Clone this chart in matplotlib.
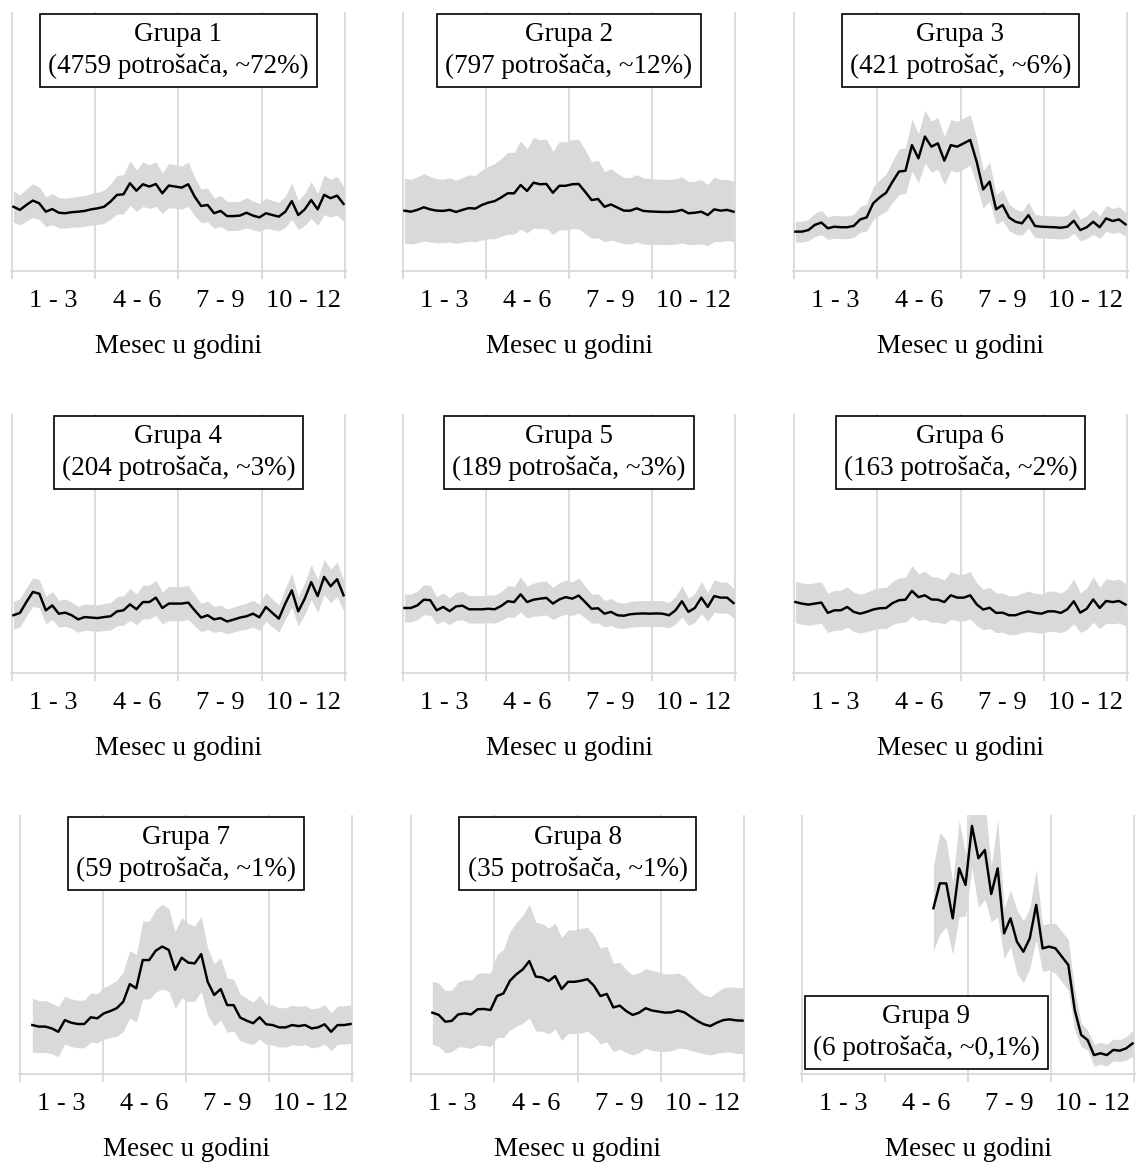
import numpy as np
import matplotlib
matplotlib.use("Agg")
import matplotlib.pyplot as plt

plt.rcParams['font.family'] = ['Liberation Serif', 'DejaVu Serif']

# ---------------- data ----------------
titles = [
    "Grupa 1\n(4759 potrošača, ~72%)",
    "Grupa 2\n(797 potrošača, ~12%)",
    "Grupa 3\n(421 potrošač, ~6%)",
    "Grupa 4\n(204 potrošača, ~3%)",
    "Grupa 5\n(189 potrošača, ~3%)",
    "Grupa 6\n(163 potrošača, ~2%)",
    "Grupa 7\n(59 potrošača, ~1%)",
    "Grupa 8\n(35 potrošača, ~1%)",
    "Grupa 9\n(6 potrošača, ~0,1%)",
]
month_labels = ["1 - 3", "4 - 6", "7 - 9", "10 - 12"]
x_label = "Mesec u godini"

g1_mean = [24.8, 23.6, 25.5, 27.2, 26.1, 22.9, 23.9, 22.5, 22.3, 22.7,
           22.9, 23.2, 23.8, 24.2, 24.8, 26.8, 29.4, 29.6, 33.9, 31.0,
           33.5, 32.6, 33.6, 30.0, 33.0, 32.6, 32.2, 33.5, 28.7, 25.1,
           25.5, 22.3, 23.2, 21.2, 21.2, 21.4, 22.5, 21.4, 20.7, 22.3,
           21.6, 21.0, 22.9, 27.0, 21.6, 23.8, 27.4, 23.8, 29.4, 28.1,
           29.1, 25.9]
g1_spread = [6.0, 5.8, 6.2, 6.5, 6.3, 5.8, 6.0, 5.8, 5.8, 5.8,
             5.9, 6.0, 6.1, 6.2, 6.4, 6.8, 7.5, 7.6, 8.6, 8.0,
             8.6, 8.4, 8.6, 7.8, 8.5, 8.4, 8.3, 8.6, 7.4, 6.5,
             6.5, 5.8, 6.0, 5.6, 5.6, 5.6, 5.8, 5.6, 5.4, 5.8,
             5.6, 5.5, 6.0, 7.0, 5.6, 6.2, 7.1, 6.2, 7.6, 7.3,
             7.5, 6.7]

g2_mean = [23.3, 22.9, 23.6, 24.6, 23.8, 23.3, 23.2, 23.6, 22.8, 23.6,
           24.3, 24.1, 25.5, 26.4, 27.0, 28.4, 30.0, 30.0, 33.2, 30.9,
           34.1, 33.5, 33.6, 30.2, 32.9, 32.9, 33.5, 33.6, 30.6, 27.4,
           27.8, 24.8, 25.7, 24.5, 23.3, 23.3, 24.2, 23.2, 23.0, 22.9,
           22.8, 22.8, 23.0, 23.6, 22.3, 22.5, 22.9, 21.6, 23.8, 23.3,
           23.6, 22.9]
g2_spread = [12.5, 12.5, 12.8, 13.0, 12.6, 12.4, 12.3, 12.4, 12.2, 12.5,
             12.8, 12.8, 13.5, 14.0, 14.5, 15.0, 15.8, 15.8, 17.0, 16.2,
             17.5, 17.2, 17.3, 16.0, 17.0, 17.0, 17.2, 17.3, 16.2, 14.8,
             15.0, 13.5, 13.8, 13.2, 12.8, 12.8, 13.0, 12.8, 12.7, 12.6,
             12.6, 12.6, 12.6, 12.8, 12.2, 12.2, 12.4, 11.8, 12.4, 12.0,
             11.8, 11.6]

g3_mean = [15.2, 15.2, 15.8, 17.8, 18.7, 16.5, 17.1, 16.9, 16.9, 17.4,
           19.9, 20.7, 26.1, 28.4, 30.2, 34.5, 38.4, 38.7, 48.6, 43.5,
           51.9, 48.0, 49.3, 42.6, 48.6, 48.0, 49.3, 50.6, 42.2, 31.5,
           34.5, 23.8, 25.5, 20.7, 19.0, 18.4, 21.6, 17.4, 17.1, 17.0,
           16.9, 16.7, 17.1, 19.4, 15.8, 16.9, 19.0, 16.9, 20.3, 19.3,
           19.9, 18.0]
g3_spread = [4.0, 4.0, 4.1, 4.5, 4.7, 4.3, 4.4, 4.4, 4.4, 4.5,
             5.0, 5.2, 6.4, 6.8, 7.2, 8.0, 8.8, 8.8, 10.0, 9.5,
             10.2, 9.8, 10.0, 9.2, 9.8, 9.8, 9.8, 9.8, 9.0, 7.3,
             7.5, 5.8, 6.0, 5.2, 4.8, 4.6, 5.0, 4.5, 4.4, 4.4,
             4.4, 4.4, 4.4, 4.8, 4.2, 4.4, 4.8, 4.4, 5.0, 4.8,
             4.9, 4.6]

g4_mean = [22.3, 23.2, 27.4, 31.3, 30.6, 24.2, 26.1, 22.9, 23.3, 22.3,
           20.7, 21.6, 21.4, 21.2, 21.6, 21.9, 23.8, 24.2, 26.5, 24.6,
           27.4, 27.4, 29.1, 25.1, 26.8, 26.8, 26.8, 27.2, 24.2, 21.4,
           22.3, 20.7, 21.2, 19.9, 20.6, 21.4, 21.9, 22.9, 21.5, 25.5,
           23.2, 21.0, 26.8, 31.9, 23.8, 28.7, 35.1, 29.7, 37.1, 33.5,
           36.2, 30.0]
g4_spread = [5.4, 5.4, 5.5, 5.5, 5.5, 5.3, 5.4, 5.2, 5.2, 5.1,
             5.0, 5.1, 5.1, 5.1, 5.2, 5.3, 5.6, 5.7, 6.2, 5.9,
             6.5, 6.5, 6.8, 6.2, 6.6, 6.6, 6.6, 6.6, 6.0, 5.4,
             5.5, 5.0, 5.0, 4.8, 4.8, 4.9, 5.0, 5.2, 5.0, 5.6,
             5.4, 5.2, 6.0, 6.5, 5.7, 6.2, 6.8, 6.3, 6.8, 6.5,
             6.6, 6.0]

g5_mean = [25.1, 25.1, 26.1, 28.3, 28.1, 24.2, 25.5, 23.9, 25.7, 26.0,
           24.6, 24.6, 24.6, 24.8, 24.6, 25.9, 27.7, 27.4, 30.4, 27.4,
           28.3, 28.7, 29.0, 26.8, 28.4, 29.3, 28.7, 29.9, 27.4, 24.8,
           25.0, 22.9, 23.6, 22.3, 22.1, 22.7, 22.9, 23.0, 22.9, 23.0,
           22.9, 22.3, 24.2, 27.7, 23.6, 25.1, 29.1, 25.5, 29.7, 29.1,
           29.1, 27.0]
g5_spread = [5.4, 5.4, 5.5, 5.8, 5.8, 5.3, 5.4, 5.2, 5.4, 5.5,
             5.3, 5.3, 5.3, 5.4, 5.4, 5.6, 6.0, 6.0, 6.8, 6.2,
             6.4, 6.6, 6.6, 6.2, 6.5, 6.6, 6.5, 6.7, 6.2, 5.6,
             5.6, 5.1, 5.2, 5.0, 4.9, 5.0, 5.0, 5.0, 5.0, 5.0,
             5.0, 4.9, 5.3, 6.0, 5.2, 5.6, 6.2, 5.6, 6.2, 6.0,
             6.0, 5.7]

g6_mean = [27.4, 26.8, 26.4, 26.8, 27.2, 23.2, 24.2, 24.2, 25.5, 23.6,
           22.9, 23.6, 24.5, 25.0, 25.1, 27.0, 28.1, 28.3, 31.7, 29.3,
           30.0, 28.4, 28.3, 27.4, 30.0, 29.1, 29.1, 30.0, 26.5, 24.5,
           25.2, 23.2, 23.3, 22.3, 22.3, 23.2, 23.8, 23.2, 22.9, 23.8,
           23.8, 23.2, 24.6, 27.7, 23.3, 24.8, 28.4, 25.1, 27.8, 27.4,
           27.8, 26.4]
g6_spread = [7.9, 8.0, 8.0, 8.0, 8.0, 7.6, 7.7, 7.7, 7.8, 7.6,
             7.5, 7.6, 7.8, 7.9, 8.0, 8.3, 8.6, 8.7, 9.8, 9.0,
             9.3, 8.8, 8.7, 8.5, 9.2, 9.0, 9.0, 9.2, 8.3, 7.8,
             8.0, 7.6, 7.6, 7.5, 7.5, 7.6, 7.8, 7.6, 7.6, 7.8,
             7.8, 7.6, 7.9, 8.6, 7.6, 8.0, 8.8, 8.0, 8.6, 8.4,
             8.5, 8.1]

g7_mean = [18.9, 18.3, 18.3, 17.6, 16.3, 20.8, 19.8, 19.3, 19.3, 21.9,
           21.5, 23.4, 24.3, 25.4, 27.9, 34.7, 33.1, 44.0, 44.0, 47.6,
           49.2, 47.9, 40.2, 44.9, 43.0, 42.7, 46.3, 35.6, 30.5, 32.8,
           26.6, 26.6, 21.8, 20.6, 19.6, 21.9, 19.2, 18.9, 18.0, 18.0,
           18.9, 18.5, 18.9, 17.6, 18.0, 19.2, 16.3, 18.9, 18.9, 19.3]
g7_spread = [10.5, 10.0, 10.0, 9.8, 9.6, 9.2, 9.2, 9.2, 9.2, 9.5,
             9.5, 10.0, 10.3, 10.8, 11.5, 13.0, 13.0, 15.0, 15.0, 16.0,
             16.4, 16.0, 14.8, 15.5, 15.0, 14.5, 14.5, 13.0, 12.0, 12.0,
             10.5, 10.0, 9.0, 8.6, 8.2, 8.4, 7.8, 7.7, 7.6, 7.6,
             7.6, 7.6, 7.6, 7.5, 7.5, 7.6, 7.3, 7.4, 7.4, 7.4]

g8_mean = [23.7, 22.8, 20.2, 20.5, 23.0, 23.4, 23.0, 25.0, 25.1, 24.7,
           30.1, 31.1, 36.0, 38.5, 40.4, 43.6, 37.6, 37.3, 35.9, 37.8,
           32.8, 35.6, 35.6, 36.0, 36.6, 34.1, 30.1, 30.9, 25.7, 26.4,
           24.3, 22.8, 23.7, 25.4, 24.5, 24.1, 23.7, 23.8, 24.5, 23.8,
           22.1, 20.5, 19.2, 18.5, 19.8, 20.8, 21.1, 20.7, 20.6]
g8_spread = [12.2, 12.2, 12.0, 11.9, 12.5, 13.0, 13.2, 13.8, 14.0, 14.2,
             16.0, 17.0, 19.0, 20.0, 20.8, 22.0, 21.0, 20.8, 20.5, 20.5,
             19.8, 20.0, 20.0, 20.2, 20.0, 19.5, 18.5, 18.5, 17.0, 16.8,
             16.0, 15.5, 15.4, 15.4, 15.4, 15.3, 15.0, 14.8, 14.5, 14.0,
             13.0, 12.0, 11.4, 11.2, 11.8, 12.4, 12.6, 12.7, 12.7]

g9_mean = [64.0, 73.6, 73.6, 60.1, 79.4, 73.0, 95.8, 83.3, 86.5, 69.5,
           79.4, 54.3, 60.1, 51.1, 47.2, 52.4, 65.3, 48.5, 49.2, 48.5,
           45.3, 42.1, 24.7, 15.1, 13.1, 7.3, 8.0, 7.3, 9.3, 9.0,
           9.9, 11.8]
g9_spread = [16.4, 19.6, 16.7, 13.8, 18.7, 12.0, 16.0, 19.0, 19.0, 10.7,
             18.7, 9.7, 11.0, 12.2, 12.0, 11.6, 13.5, 9.0, 9.0, 9.7,
             9.7, 9.7, 7.7, 4.5, 3.9, 4.2, 4.2, 4.2, 4.2, 4.2,
             4.5, 5.0]

# week of first / last observation of each group
first_week = [0.3, 0.3, 0.3, 0.3, 0.3, 0.3, 2.0, 3.4, 20.6]
last_week = 51.7

means = [g1_mean, g2_mean, g3_mean, g4_mean, g5_mean, g6_mean, g7_mean, g8_mean, g9_mean]
spreads = [g1_spread, g2_spread, g3_spread, g4_spread, g5_spread, g6_spread,
           g7_spread, g8_spread, g9_spread]

# ---------------- layout ----------------
W, H = 1138, 1162
fig = plt.figure(figsize=(W / 100, H / 100), dpi=100)

rows_px = [(12, 271), (414, 673), (815, 1074)]
cols_px = [[(11, 346), (402, 736), (793, 1128)],
           [(11, 346), (402, 736), (793, 1128)],
           [(19, 353), (410, 745), (801, 1135)]]

GRID = '#d9d9d9'
BAND = '#d9d9d9'
FS_TICK = 19
FS_TEXT = 19.5

for k in range(9):
    r, c = divmod(k, 3)
    top, bot = rows_px[r]
    left, right = cols_px[r][c]
    ax = fig.add_axes([left / W, 1 - bot / H, (right - left) / W, (bot - top) / H])

    m = np.array(means[k])
    s = np.array(spreads[k])
    x = np.linspace(first_week[k], last_week, len(m))

    ax.fill_between(x, m - s, m + s, color=BAND, lw=0, zorder=1)
    ax.plot(x, m, color='black', lw=1.75, zorder=2)

    ax.set_xlim(-0.08, 52.08)
    ax.set_ylim(0, 100)
    ax.set_axisbelow(True)

    ax.set_xticks([0, 13, 26, 39, 52])
    ax.set_xticklabels([])
    ax.set_xticks([6.5, 19.5, 32.5, 45.5], minor=True)
    ax.set_xticklabels(month_labels, minor=True, fontsize=FS_TICK)
    ax.tick_params(axis='x', which='major', length=5.5, width=1.3, color=GRID)
    ax.tick_params(axis='x', which='minor', length=0, pad=13.5)
    ax.set_yticks([])
    ax.grid(axis='x', which='major', color=GRID, lw=1.3)
    if k == 8:
        ax.get_xgridlines()[1].set_visible(False)

    for sp in ['left', 'right', 'top']:
        ax.spines[sp].set_visible(False)
    ax.spines['bottom'].set_color(GRID)
    ax.spines['bottom'].set_linewidth(1.3)

    ax.set_xlabel(x_label, fontsize=FS_TEXT, labelpad=16)

    box = dict(boxstyle='square,pad=0.3', fc='white', ec='black', lw=1.2)
    if k == 8:
        ax.text(12 / (right - left), 13 / (bot - top), titles[k], transform=ax.transAxes,
                ha='left', va='bottom', fontsize=FS_TEXT, multialignment='center',
                linespacing=1.35, bbox=box, zorder=5)
    else:
        ax.text(0.5, 1 - 10 / (bot - top), titles[k], transform=ax.transAxes,
                ha='center', va='top', fontsize=FS_TEXT, multialignment='center',
                linespacing=1.35, bbox=box, zorder=5)

fig.savefig('out.png', dpi=100)
